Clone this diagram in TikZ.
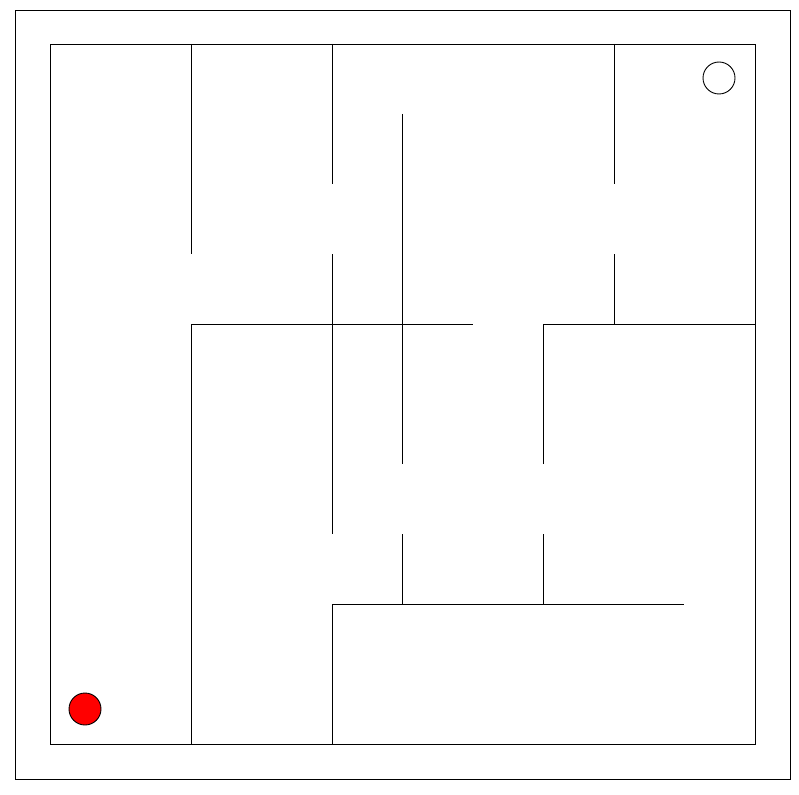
\documentclass[tikz,border=0pt]{standalone}
\begin{document}
\begin{tikzpicture}[x=1pt,y=-1pt,
  wall/.style={draw=black,line width=0.9pt},
  frame/.style={draw=black,line width=0.8pt},
  goal/.style={circle,draw=black,line width=0.9pt,fill=white,minimum size=32pt,inner sep=0pt},
  player/.style={circle,draw=black,line width=0.9pt,fill=red,minimum size=32pt,inner sep=0pt}]
\useasboundingbox (0,0) rectangle (799,794);
\draw[frame] (15,10) rectangle (790,779);
% borders
\draw[wall] (50,44) rectangle (755,744);
% internal walls
\draw[wall] (191,44) -- (191,254);
\draw[wall] (332,44) -- (332,184);
\draw[wall] (402,114) -- (402,464);
\draw[wall] (614,44) -- (614,184);
\draw[wall] (191,744) -- (191,324) -- (473,324);
\draw[wall] (332,254) -- (332,534);
\draw[wall] (543,464) -- (543,324) -- (755,324);
\draw[wall] (614,254) -- (614,324);
\draw[wall] (332,744) -- (332,604) -- (684,604);
\draw[wall] (402,534) -- (402,604);
\draw[wall] (543,534) -- (543,604);
\node[goal] (goal) at (719,78) {};
\node[player] (player) at (85,709) {};
\end{tikzpicture}
\end{document}
